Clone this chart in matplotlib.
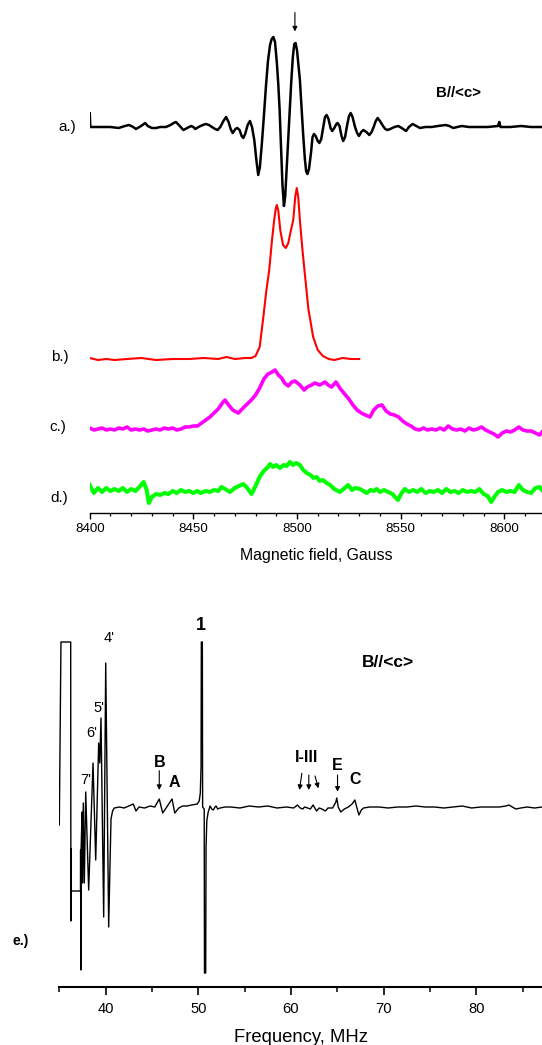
import numpy as np
import matplotlib
matplotlib.use("Agg")
import matplotlib.pyplot as plt
from matplotlib.ticker import MultipleLocator

plt.rcParams['font.family'] = ['Liberation Sans', 'DejaVu Sans']

# ---------------- top panel data (field in Gauss, intensity in arb. units) -------------
a_field = [8400.0, 8400.3, 8405, 8410, 8414, 8417, 8419, 8421, 8422.3, 8424, 8425.5, 8426.8,
           8428, 8430, 8432, 8434, 8436.8, 8439, 8440.5, 8441.6, 8443, 8445.2, 8447, 8448.9,
           8450, 8450.9, 8452.5, 8454.5, 8456.1, 8457.5, 8459, 8460.5, 8461.7, 8463, 8464.5,
           8465.8, 8467, 8468, 8469, 8470.3, 8471.2, 8472.3, 8473.3, 8474.1, 8475, 8476.2,
           8477.3, 8478.3, 8479.4, 8480.4, 8481.3, 8482.1, 8483, 8484, 8485, 8486, 8487,
           8487.8, 8488.6, 8489.4, 8490.3, 8491, 8491.6, 8492.3, 8493, 8493.7, 8494.3, 8495,
           8495.7, 8496.4, 8497.2, 8498, 8498.7, 8499.3, 8500, 8500.7, 8501.4, 8502.2, 8503,
           8503.8, 8504.4, 8505, 8505.8, 8506.8, 8507.5, 8508.2, 8509, 8510, 8510.8, 8511.7,
           8512.7, 8513.5, 8514.3, 8515.2, 8516.2, 8517, 8518, 8519, 8519.6, 8520.5, 8521.5,
           8522.3, 8523.2, 8524.2, 8525.1, 8525.9, 8526.8, 8528, 8529, 8529.9, 8531, 8532,
           8533.5, 8534.9, 8536, 8537, 8538, 8538.9, 8540, 8541.5, 8542.6, 8543.6, 8545,
           8547, 8548.9, 8550.5, 8552.6, 8554, 8555.8, 8557.5, 8559.3, 8562, 8565, 8568,
           8571.7, 8573.5, 8575.4, 8577.5, 8579.4, 8583, 8587, 8592, 8597, 8597.6, 8598.2,
           8603, 8608, 8613, 8618.2]
a_val = [15, 0, 0, 0, -1, 1, 2, 0, -2, 0, 2, 4,
         1, -1, -1, 0, 0, 2, 4, 5, 2, -3, -1, 1,
         0, -2, 0, 2, 3, 2, 0, -2, -3, 0, 6,
         10, 5, -2, -6, -2, -1, -3, -9, -11, -7, 2,
         6, 0, -13, -33, -48, -40, -18, 10, 40, 66, 82,
         88, 90, 85, 64, 42, 18, -20, -58, -79, -70, -42,
         -14, 12, 44, 70, 83, 84, 77, 62, 47, 20, -8,
         -32, -44, -47, -42, -25, -10, -7, -9, -14, -16, -12,
         0, 10, 12, 8, -1, -4, -1, 3, 4, 1, -9,
         -14, -10, 2, 11, 14, 10, 0, -6, -9, -5, -3,
         -5, -8, -5, 0, 6, 9, 6, 1, -2, -3, -2,
         0, 1, -1, -4, 0, 3, 1, -1, 0, 0, 1,
         2, 1, -1, 0, 1, 0, 0, 0, 1, 5, 0,
         0, 1, 0, 0]

b_field = [8400, 8404, 8408, 8412, 8418, 8425, 8432, 8440, 8448, 8455, 8462, 8466, 8470, 8475,
           8478, 8480, 8482, 8483.6, 8485.2, 8486.6, 8488, 8489, 8489.8, 8490.3, 8491,
           8492, 8493.3, 8494.6, 8495.8, 8497, 8498.2, 8499.2, 8499.9, 8500.6, 8501.4,
           8502.5, 8503.6, 8505.5, 8507.8, 8510, 8512.5, 8515.3, 8518, 8522, 8526, 8530]
b_val = [1, -1, 0, -1, 0, 1, -1, 0, 0, 1, 0, 2, 0, 1,
         1, 3, 12, 39, 68, 89, 120, 139, 151, 154, 148,
         128, 114, 111, 116, 128, 139, 163, 171, 162, 139,
         112, 89, 50, 22, 9, 3, 0, -1, 1, 0, 0]

c_field = [8400, 8402, 8404, 8406, 8408, 8410, 8412, 8414, 8416, 8418, 8420, 8422, 8424, 8426,
           8428, 8430, 8432, 8434, 8436, 8438, 8440, 8442, 8444, 8446, 8448, 8450, 8452, 8454,
           8456, 8458, 8460, 8462, 8464, 8465.3, 8467, 8469, 8471.7, 8474, 8476, 8478, 8480,
           8482, 8484, 8486, 8488, 8489.4, 8491, 8492.6, 8494, 8495.8, 8497.5, 8499, 8501.4,
           8503.4, 8505, 8507, 8508.7, 8511, 8513.5, 8515, 8516.7, 8518.8, 8521, 8523, 8525,
           8527, 8529, 8531, 8533, 8535.2, 8537, 8539, 8541, 8543, 8545, 8547, 8549, 8551,
           8553, 8555, 8557, 8559, 8561, 8563, 8565, 8567, 8569, 8571, 8573, 8575, 8577, 8579,
           8581, 8583, 8585, 8587, 8589, 8591, 8593, 8595, 8597, 8599, 8601, 8603, 8605, 8607,
           8609, 8611, 8613, 8615, 8617, 8618.2]
c_val = [1, -1, 0, 1, -1, 0, -1, 1, 0, 2, -1, 0, -1, 0,
         -2, -1, 0, -1, 1, 0, 1, -1, 0, 2, 2, 3, 3, 6,
         9, 12, 16, 20, 26, 29, 24, 19, 16, 21, 25, 29, 34,
         41, 50, 55, 57, 59, 54, 51, 46, 43, 47, 48, 44,
         39, 42, 44, 46, 44, 47, 44, 42, 47, 40, 35, 30,
         24, 19, 16, 14, 12, 19, 23, 24, 18, 15, 14, 12, 8,
         5, 3, 0, -1, 1, -1, 0, -1, 1, -1, 3, 0, -1, 0,
         -2, 1, -1, 0, 2, -1, -3, -5, -8, -4, -2, -3, -1, 2,
         -1, -2, -2, -4, -6, -3]

d_field = [8400, 8402, 8404, 8406, 8408, 8410, 8412, 8414, 8416, 8418, 8420, 8422, 8424, 8426,
           8427.5, 8428.5, 8430, 8432, 8434, 8436, 8438, 8440, 8442, 8444, 8446, 8448, 8450,
           8452, 8453.5, 8456, 8458, 8460, 8462, 8463.6, 8465.3, 8467.7, 8470, 8472, 8474.1,
           8476, 8478.1, 8480, 8482.2, 8484, 8486, 8487, 8488.5, 8490, 8491.8, 8493.5, 8495,
           8496.6, 8498, 8499.5, 8501.4, 8503, 8504.7, 8506.5, 8508, 8509.5, 8511, 8512.5,
           8514.3, 8516, 8518, 8520.7, 8522.5, 8524.7, 8526.5, 8528, 8530.4, 8532, 8533.6,
           8535.5, 8537, 8538.4, 8540, 8542, 8544, 8546, 8548.7, 8550.5, 8552, 8554, 8556,
           8558, 8560, 8562, 8564, 8566, 8568, 8570, 8572, 8574, 8576, 8578, 8580, 8582,
           8584, 8586, 8588, 8590, 8592, 8593.7, 8595.5, 8597, 8599, 8601, 8603, 8605, 8607,
           8609, 8611, 8613, 8615, 8617, 8618.2]
d_val = [6, -2, 3, -1, 3, 0, 2, 0, 3, -1, 2, 0, 4, 9,
         1, -12, -6, -3, -4, -2, -3, 0, -2, 1, -1, 0, -2,
         0, -2, 0, -1, 1, 0, 4, 2, -1, 3, 5, 7,
         3, -3, 5, 15, 20, 24, 27, 24, 26, 23, 26, 25,
         29, 26, 28, 26, 21, 18, 16, 13, 14, 10, 11,
         8, 6, 2, -1, 2, 6, 1, 3, 2, 0, -2,
         1, 0, 2, -1, 1, -1, -3, -9, -2, 2, -1, 1,
         -1, 2, -2, 0, -1, 1, -2, 2, -1, 0, -2, 1, -1,
         0, -1, 2, -3, -5, -11, -5, -1, 1, -1, 0, -1, 6,
         1, -1, -2, 3, 4, 1]

field_ticks = [8400, 8450, 8500, 8550, 8600]
top_labels = ['a.)', 'b.)', 'c.)', 'd.)']

# ---------------- bottom panel data (frequency in MHz, ENDOR intensity) -------------
e_freq = [35.00, 35.18, 36.23, 36.25, 36.28, 36.30, 37.29, 37.30, 37.32, 37.36, 37.46, 37.50,
          37.59, 37.70, 37.85, 38.17, 38.64, 38.93, 39.25, 39.37, 39.50, 39.79, 40.01,
          40.33, 40.58, 40.75, 40.93, 41.5, 42.0, 42.5, 42.98, 43.28, 43.6, 44.2, 44.8,
          45.3, 45.79, 46.16, 46.6, 47.17, 47.46, 47.9, 48.3, 48.78, 49.3, 49.89, 50.1,
          50.22, 50.30, 50.33, 50.44, 50.47, 50.64, 50.67, 50.80, 50.84, 50.92, 51.05,
          51.27, 51.45, 51.63, 51.8, 51.92, 52.1, 52.35, 52.9, 53.5, 54.5, 55.5, 56.5,
          57.5, 58.5, 59.5, 60.3, 60.7, 61.0, 61.28, 61.47, 61.8, 62.1, 62.39, 62.77,
          63.05, 63.34, 63.72, 64.0, 64.5, 64.85, 64.95, 65.1, 65.39, 65.77, 66.2, 66.6,
          66.9, 67.1, 67.34, 67.6, 67.83, 68.5, 69.5, 70.5, 71.5, 72.5, 73.5, 74.5, 75.5,
          76.5, 77.5, 78.5, 79.0, 79.5, 80.5, 81.5, 82.5, 83.2, 83.53, 83.9, 84.27, 84.8,
          85.5, 86.3, 87.1]
e_val = [-18, 165, 165, -114, -42, -84, -84, -43, -163, -40, -5, -76,
         4, -76, 15, -83, 44, -53, 64, 44, 89, -110, 144,
         -120, -12, -4, -1, 0, -1, 1, 3, -4, 0, -1, 1,
         0, 8, -6, 0, 8, -6, -1, 1, 1, 2, 3, 6,
         14, 40, 165, 165, 0, -2, -166, -166, -40, -14, -6,
         1, -2, -3, 0, 1, -2, -1, 0, 0, -1, 1, 0,
         1, -1, 0, -1, 2, -1, -2, 0, -1, -2, 2, -4,
         -1, -2, -4, -1, -1, 5, 9, 0, -5, -2, 0, 3,
         7, 0, -8, -3, -1, 0, 0, -1, 0, 0, 1, 0, 0,
         -1, 0, 1, 0, -1, 0, 0, 0, 1, 2, 0, -2, -1,
         0, -1, 0]

freq_major = [40, 50, 60, 70, 80]

# ---------------- figure ----------------
W, H = 542, 1045
fig = plt.figure(figsize=(W / 100, H / 100), dpi=100)

# ---- top axes ----
axt = fig.add_axes([89.7 / W, (H - 513) / H, (W - 89.7) / W, 513 / H])
axt.set_xlim(8400, 8618.2)
axt.set_ylim(0, 513)
offs = {'a': 386, 'b': 154, 'c': 84, 'd': 22}
axt.plot(a_field, np.array(a_val) + offs['a'], color='black', lw=1.8,
         solid_joinstyle='round', solid_capstyle='butt')
axt.plot(b_field, np.array(b_val) + offs['b'], color='#ff0000', lw=1.5)
axt.plot(c_field, np.array(c_val) + offs['c'], color='#ff00ff', lw=2.6)
axt.plot(d_field, np.array(d_val) + offs['d'], color='#00ff00', lw=2.9)

for lab, fx, fy in zip(top_labels, [8389.3, 8385.4, 8384.7, 8385.1], [386, 155.7, 86.3, 15.3]):
    axt.text(fx, fy, lab, fontsize=11, ha='center', va='center')
axt.text(8577.8, 419.7, 'B//<c>', fontsize=10.8, fontweight='bold', ha='center', va='center')
axt.annotate('', xy=(8499, 481.5), xytext=(8499, 500.5),
             arrowprops=dict(arrowstyle='-|>', lw=0.8, color='black', mutation_scale=7,
                             shrinkA=0, shrinkB=0))

for s in ['top', 'left', 'right']:
    axt.spines[s].set_visible(False)
axt.spines['bottom'].set_linewidth(1.0)
axt.set_yticks([])
axt.set_xticks(field_ticks)
axt.xaxis.set_minor_locator(MultipleLocator(10))
axt.tick_params(axis='x', which='major', direction='out', length=4.5, width=1.0, labelsize=9.6, pad=2.5)
axt.tick_params(axis='x', which='minor', direction='out', length=2.2, width=0.9)
axt.set_xlabel('Magnetic field, Gauss', fontsize=11.4, labelpad=9.5)
axt.patch.set_alpha(0)

# ---- bottom axes ----
axb = fig.add_axes([59.3 / W, (H - 987) / H, (W - 59.3) / W, 387 / H])
axb.set_xlim(35, 87.1)
axb.set_ylim(-180, 207)
axb.plot(e_freq, e_val, color='black', lw=1.0)

axb.text(50.27, 182, '1', fontsize=13, fontweight='bold', ha='center', va='center')
axb.text(40.37, 169, "4'", fontsize=10.5, ha='center', va='center')
axb.text(39.32, 99.3, "5'", fontsize=10.5, ha='center', va='center')
axb.text(38.5, 73.7, "6'", fontsize=10.5, ha='center', va='center')
axb.text(37.86, 27, "7'", fontsize=10.5, ha='center', va='center')
axb.text(70.52, 144.7, 'B//<c>', fontsize=12.5, fontweight='bold', ha='center', va='center')
axb.text(45.86, 44.7, 'B', fontsize=11.5, fontweight='bold', ha='center', va='center')
axb.text(47.39, 24.7, 'A', fontsize=11.5, fontweight='bold', ha='center', va='center')
axb.text(61.74, 49.7, 'I-III', fontsize=11.5, fontweight='bold', ha='center', va='center')
axb.text(65.03, 42, 'E', fontsize=11.5, fontweight='bold', ha='center', va='center')
axb.text(66.98, 27, 'C', fontsize=11.5, fontweight='bold', ha='center', va='center')
axb.text(30.84, -134, 'e.)', fontsize=10, fontweight='bold', ha='center', va='center')

arrow_kw = dict(arrowstyle='-|>', lw=0.8, color='black', mutation_scale=7, shrinkA=0, shrinkB=0)
for (x0, y0), (x1, y1) in [((45.79, 36.3), (45.79, 17)),
                           ((61.18, 33.7), (60.92, 17)),
                           ((61.93, 32), (61.93, 17)),
                           ((62.6, 31), (62.97, 18.7)),
                           ((65.03, 32), (65.03, 15.3))]:
    axb.annotate('', xy=(x1, y1), xytext=(x0, y0), arrowprops=arrow_kw)

for s in ['top', 'left', 'right']:
    axb.spines[s].set_visible(False)
axb.spines['bottom'].set_linewidth(1.5)
axb.set_yticks([])
axb.set_xticks(freq_major)
axb.xaxis.set_minor_locator(MultipleLocator(5))
axb.tick_params(axis='x', which='major', direction='out', length=6, width=1.2, labelsize=10.6, pad=4.5)
axb.tick_params(axis='x', which='minor', direction='out', length=3.5, width=1.1)
axb.set_xlabel('Frequency, MHz', fontsize=13.3, labelpad=10)
axb.patch.set_alpha(0)

fig.savefig('out.png', dpi=100)
